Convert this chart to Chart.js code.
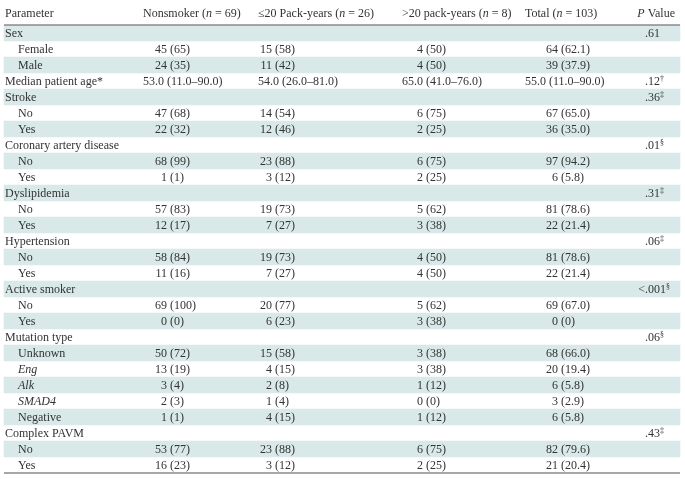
<!DOCTYPE html>
<html lang="en">
<head>
<meta charset="utf-8">
<title>Patient characteristics by smoking status</title>
<script src="https://cdn.jsdelivr.net/npm/chart.js@4.4.1/dist/chart.umd.min.js"></script>
<style>
  html, body { margin: 0; padding: 0; background: #fff; }
  #wrap { width: 685px; height: 479px; position: relative; }
</style>
</head>
<body>
<div id="wrap"><canvas id="tbl"></canvas></div>
<script>
// table rows (first column)
const rowLabels = ['Sex', 'Female', 'Male', 'Median patient age*', 'Stroke', 'No', 'Yes',
  'Coronary artery disease', 'No', 'Yes', 'Dyslipidemia', 'No', 'Yes', 'Hypertension', 'No', 'Yes',
  'Active smoker', 'No', 'Yes', 'Mutation type', 'Unknown', 'Eng', 'Alk', 'SMAD4', 'Negative',
  'Complex PAVM', 'No', 'Yes'];
const subRows = [1, 2, 5, 6, 8, 9, 11, 12, 14, 15, 17, 18, 20, 21, 22, 23, 24, 26, 27];
const italicRows = [21, 22, 23];
const rangeRows = [3];

// column headers
const groupNames = ['Nonsmoker', '≤20 Pack-years', '>20 pack-years', 'Total'];
const groupN = [69, 26, 8, 103];

// cell values, no. of patients (%) or median (range)
const nonsmoker = ['', '45 (65)', '24 (35)', '53.0 (11.0–90.0)', '', '47 (68)', '22 (32)', '', '68 (99)', '1 (1)',
  '', '57 (83)', '12 (17)', '', '58 (84)', '11 (16)', '', '69 (100)', '0 (0)', '', '50 (72)', '13 (19)',
  '3 (4)', '2 (3)', '1 (1)', '', '53 (77)', '16 (23)'];
const packLe20 = ['', '15 (58)', '11 (42)', '54.0 (26.0–81.0)', '', '14 (54)', '12 (46)', '', '23 (88)', '3 (12)',
  '', '19 (73)', '7 (27)', '', '19 (73)', '7 (27)', '', '20 (77)', '6 (23)', '', '15 (58)', '4 (15)',
  '2 (8)', '1 (4)', '4 (15)', '', '23 (88)', '3 (12)'];
const packGt20 = ['', '4 (50)', '4 (50)', '65.0 (41.0–76.0)', '', '6 (75)', '2 (25)', '', '6 (75)', '2 (25)',
  '', '5 (62)', '3 (38)', '', '4 (50)', '4 (50)', '', '5 (62)', '3 (38)', '', '3 (38)', '3 (38)',
  '1 (12)', '0 (0)', '1 (12)', '', '6 (75)', '2 (25)'];
const total = ['', '64 (62.1)', '39 (37.9)', '55.0 (11.0–90.0)', '', '67 (65.0)', '36 (35.0)', '', '97 (94.2)', '6 (5.8)',
  '', '81 (78.6)', '22 (21.4)', '', '81 (78.6)', '22 (21.4)', '', '69 (67.0)', '0 (0)', '', '68 (66.0)', '20 (19.4)',
  '6 (5.8)', '3 (2.9)', '6 (5.8)', '', '82 (79.6)', '21 (20.4)'];
const pValues = ['.61', '', '', '.12', '.36', '', '', '.01', '', '', '.31', '', '', '.06', '', '',
  '<.001', '', '', '.06', '', '', '', '', '', '.43', '', ''];
const pNotes = ['', '', '', '†', '‡', '', '', '§', '', '', '‡', '', '', '‡', '', '',
  '§', '', '', '§', '', '', '', '', '', '‡', '', ''];

const columns = [nonsmoker, packLe20, packGt20, total];

// layout (x in page px, the x scale runs 0..685)
const colStart = [143, 258, 402, 525];   // left edge of header / range text
const countEdge = [167, 272, 423, 558];  // right edge of the count
const pPoint = 645;                      // decimal point of P values
const tableLeft = 4, tableRight = 680;
const FONT = '"Liberation Serif", "Times New Roman", serif';
const SIZE = 12;
const INK = '#333';
const SHADE = '#d9e8e9';

function font(it, size) {
  return (it ? 'italic ' : '') + (size || SIZE) + 'px ' + FONT;
}

function runsWidth(ctx, runs) {
  let w = 0;
  runs.forEach(r => { ctx.font = font(r.it, r.sup ? 8 : SIZE); w += ctx.measureText(r.t).width; });
  return w;
}

function drawRuns(ctx, runs, x, y, align) {
  const w = runsWidth(ctx, runs);
  let cx = align === 'right' ? x - w : (align === 'center' ? x - w / 2 : x);
  runs.forEach(r => {
    ctx.font = font(r.it, r.sup ? 8 : SIZE);
    ctx.fillText(r.t, cx, r.sup ? y - 4 : y);
    cx += ctx.measureText(r.t).width;
  });
}

const tablePlugin = {
  id: 'tableText',
  afterDatasetsDraw(chart) {
    const ctx = chart.ctx;
    const xs = chart.scales.x, ys = chart.scales.y;
    const area = chart.chartArea;
    ctx.save();
    ctx.fillStyle = INK;
    ctx.textBaseline = 'alphabetic';
    ctx.textAlign = 'left';

    // header
    const hy = area.top - 8;
    drawRuns(ctx, [{ t: 'Parameter' }], xs.getPixelForValue(tableLeft + 1), hy, 'left');
    groupNames.forEach((g, c) => {
      drawRuns(ctx, [{ t: g + ' (' }, { t: 'n', it: true }, { t: ' = ' + groupN[c] + ')' }],
        xs.getPixelForValue(colStart[c]), hy, 'left');
    });
    drawRuns(ctx, [{ t: 'P', it: true }, { t: ' Value' }], xs.getPixelForValue(tableRight - 5), hy, 'right');

    // rules
    ctx.strokeStyle = '#8a8a8a';
    ctx.lineWidth = 1.5;
    [area.top, area.bottom].forEach(yy => {
      ctx.beginPath();
      ctx.moveTo(xs.getPixelForValue(tableLeft), yy);
      ctx.lineTo(xs.getPixelForValue(tableRight), yy);
      ctx.stroke();
    });

    // body
    rowLabels.forEach((lab, i) => {
      const y = ys.getPixelForValue(i) + 4;
      const indent = subRows.includes(i) ? 18 : 5;
      drawRuns(ctx, [{ t: lab, it: italicRows.includes(i) }], xs.getPixelForValue(indent), y, 'left');

      columns.forEach((col, c) => {
        const v = col[i];
        if (!v) return;
        if (rangeRows.includes(i)) {
          drawRuns(ctx, [{ t: v }], xs.getPixelForValue(colStart[c]), y, 'left');
        } else {
          const k = v.indexOf(' ');
          const edge = xs.getPixelForValue(countEdge[c]);
          drawRuns(ctx, [{ t: v.slice(0, k) }], edge, y, 'right');
          drawRuns(ctx, [{ t: v.slice(k) }], edge, y, 'left');
        }
      });

      if (pValues[i]) {
        const p = pValues[i];
        const d = p.indexOf('.');
        const px = xs.getPixelForValue(pPoint);
        drawRuns(ctx, [{ t: p.slice(0, d) }], px, y, 'right');
        drawRuns(ctx, [{ t: p.slice(d) }, { t: pNotes[i], sup: true }], px, y, 'left');
      }
    });
    ctx.restore();
  }
};

new Chart(document.getElementById('tbl'), {
  type: 'bar',
  data: {
    labels: rowLabels.map((l, i) => i + ' ' + l),
    datasets: [{
      label: 'row shading',
      data: rowLabels.map((_, i) => (i % 2 === 0 ? [tableLeft, tableRight] : null)),
      backgroundColor: SHADE,
      borderWidth: 0,
      barPercentage: 1,
      categoryPercentage: 1
    }]
  },
  options: {
    indexAxis: 'y',
    responsive: true,
    maintainAspectRatio: false,
    animation: false,
    layout: { padding: { top: 25, bottom: 6, left: 0, right: 0 } },
    plugins: { legend: { display: false }, tooltip: { enabled: false } },
    scales: {
      x: { type: 'linear', min: 0, max: 685, display: false },
      y: { type: 'category', display: false, offset: true }
    }
  },
  plugins: [tablePlugin]
});
</script>
</body>
</html>
